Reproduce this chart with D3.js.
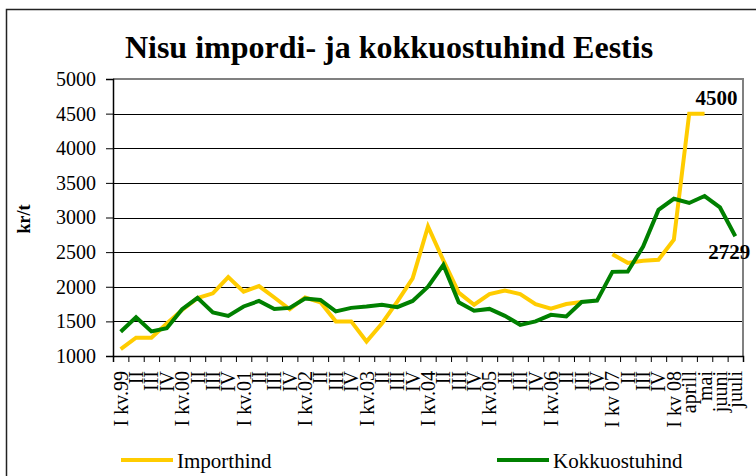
<!DOCTYPE html>
<html>
<head>
<meta charset="utf-8">
<script src="https://cdn.jsdelivr.net/npm/d3@7"></script>
<style>
  body { margin: 0; background: #fff; }
  svg text { font-family: "Liberation Serif", "Times New Roman", serif; }
</style>
</head>
<body>
<div id="canvas"></div>
<script>
// Chart size and plot area
var w = 756;
var h = 476;
var margin = {top: 79, right: 13, bottom: 120, left: 113};
var serif = "'Liberation Serif', 'Times New Roman', serif";

// Data
var categories = ["I kv.99", "II", "III", "IV", "I kv.00", "II", "III", "IV",
    "I kv.01", "II", "III", "IV", "I kv.02", "II", "III", "IV",
    "I kv.03", "II", "III", "IV", "I kv.04", "II", "III", "IV",
    "I kv.05", "II", "III", "IV", "I kv.06", "II", "III", "IV",
    "I kv 07", "II", "III", "IV", "I kv 08", "aprill", "mai", "juuni", "juuli"];

var importhind = [1100, 1265, 1265, 1470, 1665, 1835, 1905, 2140, 1930, 2010,
    1845, 1675, 1845, 1775, 1500, 1500, 1210, 1470, 1785, 2120,
    2870, 2380, 1915, 1740, 1895, 1945, 1895, 1750, 1685, 1750,
    1780, null, 2470, 2345, 2375, 2390, 2680, 4500, 4500, null, null];

var kokkuostuhind = [1350, 1560, 1355, 1400, 1675, 1840, 1630, 1580, 1715, 1795,
    1680, 1695, 1830, 1810, 1645, 1695, 1715, 1740, 1705, 1795,
    2000, 2315, 1775, 1655, 1680, 1580, 1450, 1500, 1595, 1570,
    1780, 1800, 2215, 2220, 2580, 3110, 3270, 3210, 3310, 3145, 2729];

var yTicks = [1000, 1500, 2000, 2500, 3000, 3500, 4000, 4500, 5000];

var seriesNames = ["Importhind", "Kokkuostuhind"];
var seriesColors = ["#ffcc00", "#008000"];

var svg = d3.select("#canvas")
    .append("svg")
    .attr("width", w)
    .attr("height", h)
    .style("background-color", "white");

// outer chart frame (runs off the right and bottom edge)
svg.append("rect")
    .attr("x", 6.5).attr("y", 9.5)
    .attr("width", 800).attr("height", 500)
    .attr("fill", "none")
    .attr("stroke", "#222")
    .attr("stroke-width", 1.5);

var x = d3.scaleLinear()
    .domain([0, categories.length])
    .range([margin.left, w - margin.right]);

var y = d3.scaleLinear()
    .domain([1000, 5000])
    .range([h - margin.bottom, margin.top]);

// Title
svg.append("text")
    .attr("x", 389)
    .attr("y", 58)
    .attr("text-anchor", "middle")
    .style("font-size", "32px")
    .style("font-weight", "bold")
    .text("Nisu impordi- ja kokkuostuhind Eestis");

// gridlines
svg.append("g")
    .selectAll("line")
    .data(yTicks.slice(1, -1))
    .join("line")
    .attr("x1", x(0)).attr("x2", x(categories.length))
    .attr("y1", d => Math.round(y(d)) + 0.5)
    .attr("y2", d => Math.round(y(d)) + 0.5)
    .attr("stroke", "#000")
    .attr("stroke-width", 1);

// plot area border (top and right, gray)
svg.append("path")
    .attr("d", `M${x(0)},${y(5000)}H${x(categories.length)}V${y(1000)}`)
    .attr("fill", "none")
    .attr("stroke", "#808080")
    .attr("stroke-width", 2);

// y axis
var yAxis = svg.append("g")
    .attr("transform", `translate(${x(0)},0)`)
    .call(d3.axisLeft(y).tickValues(yTicks).tickSize(7).tickPadding(10).tickFormat(d3.format("d")))
    .attr("font-family", serif)
    .attr("font-size", 20);
yAxis.select(".domain").attr("stroke", "#000").attr("stroke-width", 1.5);
yAxis.selectAll("text")
    .attr("font-family", serif)
    .style("font-family", serif)
    .style("font-size", "20px")
    .attr("fill", "#000");

// x axis with ticks between categories
var xAxis = svg.append("g")
    .attr("transform", `translate(0,${y(1000)})`)
    .call(d3.axisBottom(x).tickValues(d3.range(categories.length + 1)).tickSize(6).tickFormat(""));
xAxis.select(".domain").attr("stroke", "#000").attr("stroke-width", 1.5);

// rotated category labels
svg.append("g")
    .selectAll("text")
    .data(categories)
    .join("text")
    .attr("transform", (d, i) => `translate(${x(i + 0.5)},${y(1000) + 15}) rotate(-90)`)
    .attr("dy", "0.35em")
    .attr("text-anchor", "end")
    .style("font-size", "20px")
    .text(d => d);

// y axis title
svg.append("text")
    .attr("transform", "translate(30,219) rotate(-90)")
    .attr("text-anchor", "middle")
    .style("font-size", "18px")
    .style("font-weight", "bold")
    .text("kr/t");

// lines
var line = d3.line()
    .defined(d => d != null)
    .x((d, i) => x(i + 0.5))
    .y(d => y(d));

[importhind, kokkuostuhind].forEach((s, k) => {
    svg.append("path")
        .datum(s)
        .attr("d", line)
        .attr("fill", "none")
        .attr("stroke", seriesColors[k])
        .attr("stroke-width", 4)
        .attr("stroke-linejoin", "miter");
});

// data labels
var lastImp = 38;
svg.append("text")
    .attr("x", x(lastImp + 0.5) + 12)
    .attr("y", y(importhind[lastImp]) - 9)
    .attr("text-anchor", "middle")
    .style("font-size", "21px")
    .style("font-weight", "bold")
    .text(importhind[lastImp]);

var lastK = kokkuostuhind.length - 1;
svg.append("text")
    .attr("x", x(lastK + 0.5) - 6)
    .attr("y", y(kokkuostuhind[lastK]) + 23)
    .attr("text-anchor", "middle")
    .style("font-size", "21px")
    .style("font-weight", "bold")
    .text(kokkuostuhind[lastK]);

// legend
var legendX = [121, 497];
seriesNames.forEach((name, k) => {
    svg.append("line")
        .attr("x1", legendX[k]).attr("x2", legendX[k] + 52)
        .attr("y1", 460).attr("y2", 460)
        .attr("stroke", seriesColors[k])
        .attr("stroke-width", 4);
    svg.append("text")
        .attr("x", legendX[k] + 56)
        .attr("y", 468)
        .style("font-size", "21px")
        .text(name);
});
</script>
</body>
</html>
